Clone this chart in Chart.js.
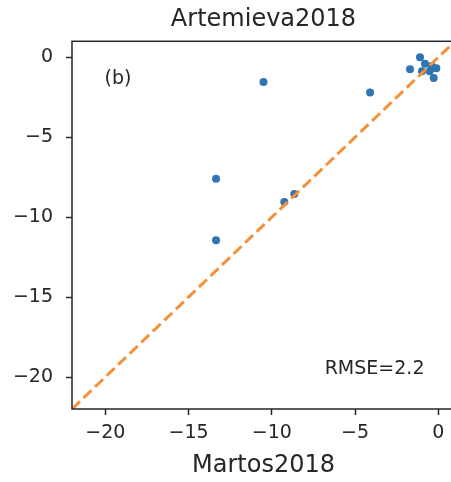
<!DOCTYPE html>
<html>
<head>
<meta charset="utf-8">
<script src="https://cdn.jsdelivr.net/npm/chart.js@4/dist/chart.umd.min.js"></script>
<style>
  html, body { margin: 0; padding: 0; background: #fff; overflow: hidden; }
  #wrap { width: 451px; height: 482px; overflow: hidden; position: relative; }
  canvas { display: block; }
</style>
</head>
<body>
<div id="wrap"><canvas id="c" width="480" height="482"></canvas></div>
<script>
// Depth estimates: Martos2018 (x) against Artemieva2018 (y)
const martos     = [-10.5, -4.1, -13.35, -13.35, -9.25, -8.65, -1.1, -1.7, -0.8, -0.4, -0.12, -0.28, -0.98, -0.52];
const artemieva  = [-1.55, -2.2, -7.6, -11.45, -9.05, -8.55, 0.0, -0.75, -0.4, -0.55, -0.68, -1.3, -0.88, -0.88];
const oneToOne   = [-22, 1];            // reference line y = x
const axisRange  = [-22, 1];
const tickValues = [-20, -15, -10, -5, 0];
const panelTag   = '(b)';
const rmseText   = 'RMSE=2.2';

const FONT = 'DejaVu Sans';
const INK = '#262626';

const fmt = v => (v < 0 ? '\u2212' + Math.abs(v) : String(v));

// Draws the box around the axes and the two text notes
const framePlugin = {
  id: 'frame',
  afterDraw(chart) {
    const { ctx, chartArea: a } = chart;
    ctx.save();
    ctx.strokeStyle = INK;
    ctx.lineWidth = 1.5;
    ctx.strokeRect(a.left, a.top, a.right - a.left, a.bottom - a.top);
    ctx.fillStyle = INK;
    ctx.font = '19px "' + FONT + '"';
    ctx.textAlign = 'center';
    ctx.textBaseline = 'middle';
    const w = a.right - a.left, h = a.bottom - a.top;
    ctx.fillText(panelTag, a.left + 0.12 * w, a.top + 0.102 * h);
    ctx.fillText(rmseText, a.left + 0.79 * w, a.top + 0.892 * h);
    ctx.restore();
  }
};

const pts = martos.map((x, i) => ({ x, y: artemieva[i] }));
const diag = oneToOne.map(v => ({ x: v, y: v }));

function axis(pos, fitSize, titleText) {
  return {
    type: 'linear',
    position: pos,
    min: axisRange[0],
    max: axisRange[1],
    afterBuildTicks: s => { s.ticks = tickValues.map(v => ({ value: v })); },
    afterFit: s => { if (pos === 'left') s.width = fitSize; else s.height = fitSize; },
    border: { display: false },
    grid: {
      display: true, drawOnChartArea: false, drawTicks: true,
      tickLength: 6, tickWidth: 1.5, tickColor: INK
    },
    ticks: {
      color: INK,
      font: { family: FONT, size: 19 },
      padding: pos === 'left' ? 13 : 6.5,
      callback: v => fmt(v)
    },
    title: titleText ? {
      display: true, text: titleText, color: INK,
      font: { family: FONT, size: 24 },
      padding: { top: 0, bottom: 2 }
    } : { display: false }
  };
}

new Chart(document.getElementById('c'), {
  type: 'scatter',
  data: {
    datasets: [
      {
        label: '1:1',
        data: diag,
        showLine: true,
        borderColor: '#f4913a',
        borderWidth: 3,
        borderDash: [11, 5],
        pointRadius: 0,
        fill: false,
        order: 0
      },
      {
        label: 'sites',
        data: pts,
        backgroundColor: '#2f74b3',
        borderWidth: 0,
        pointRadius: 4,
        order: 1
      }
    ]
  },
  options: {
    responsive: false,
    animation: false,
    devicePixelRatio: 1,
    layout: { padding: { left: 0, right: 25, top: 0, bottom: 0 } },
    plugins: {
      legend: { display: false },
      tooltip: { enabled: false },
      title: {
        display: true,
        fullSize: false,
        text: 'Artemieva2018',
        color: INK,
        font: { family: FONT, size: 24, weight: 'normal' },
        padding: { top: 5, bottom: 7.5 }
      }
    },
    scales: {
      x: axis('bottom', 73, 'Martos2018'),
      y: axis('left', 72, null)
    }
  },
  plugins: [framePlugin]
});
</script>
</body>
</html>
